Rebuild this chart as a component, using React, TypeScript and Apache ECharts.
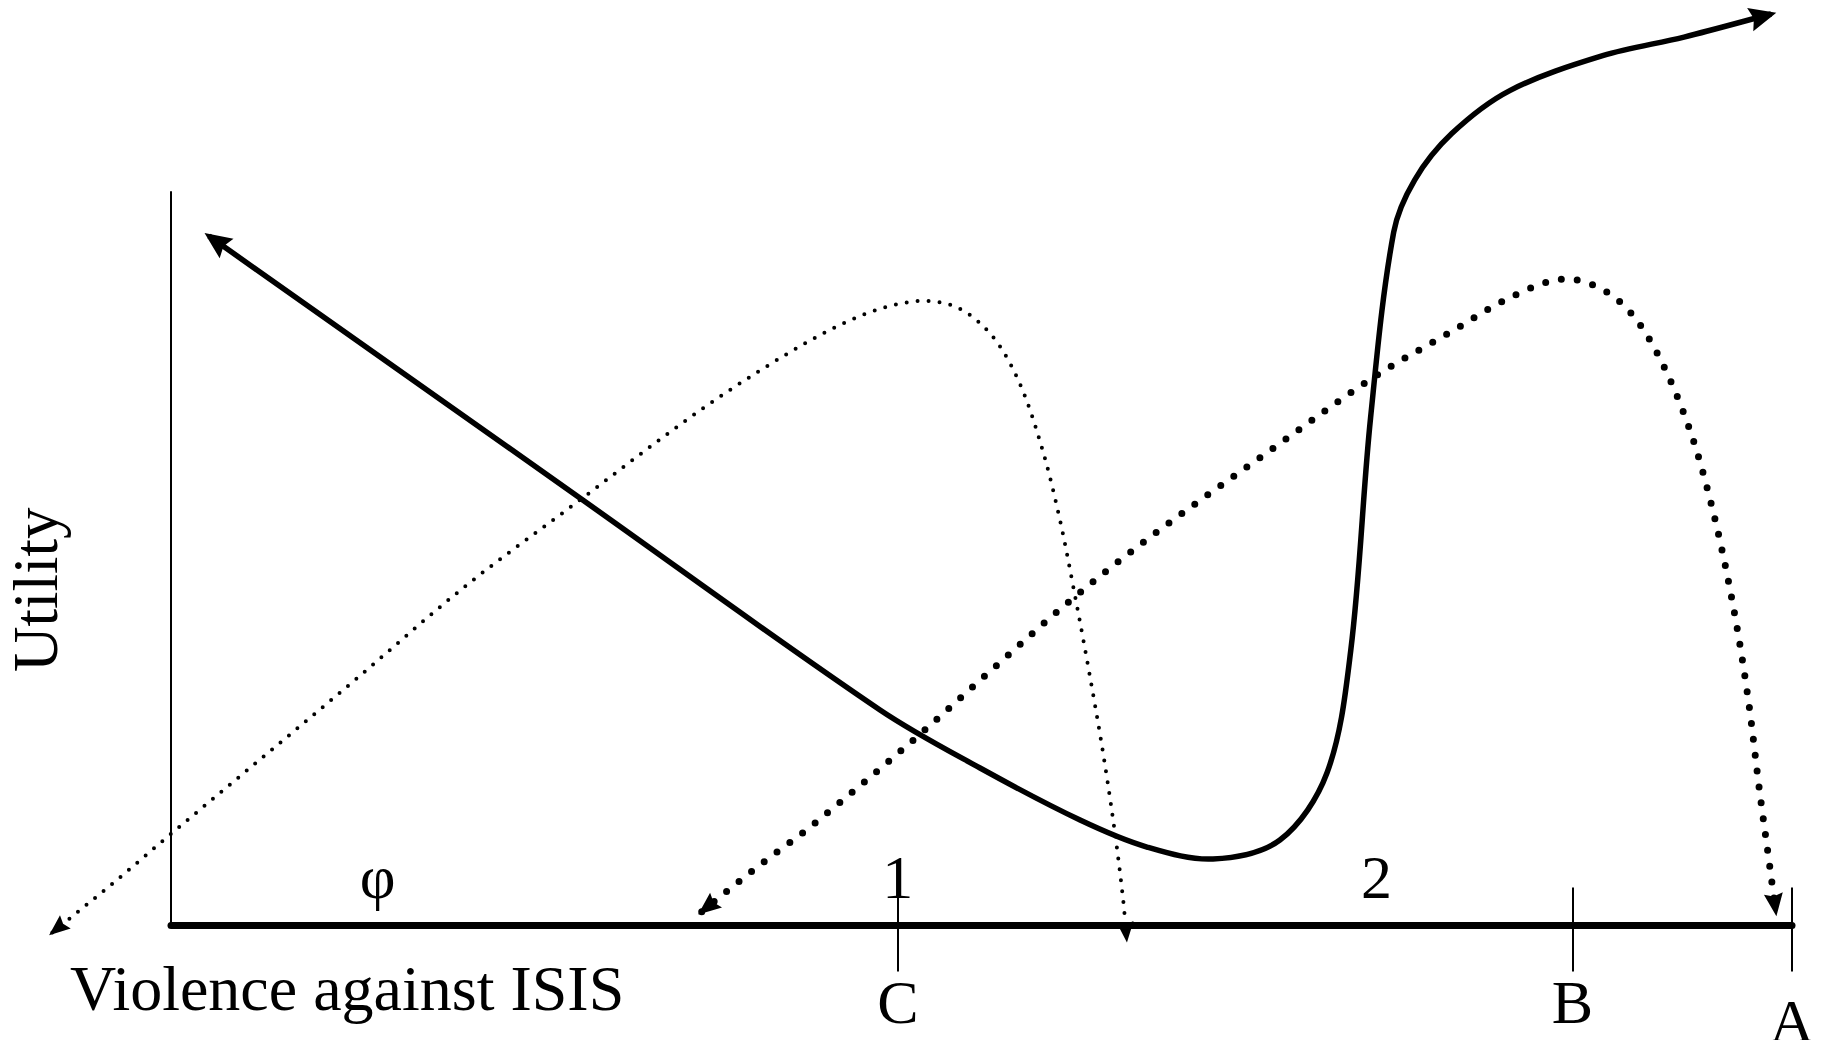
import React, { useEffect, useRef } from 'react';
import * as echarts from 'echarts';

const FONT = '"Liberation Serif", "Times New Roman", Times, serif';

// Axis marks (x in units where A = 10, y in units where the top of the Utility axis = 10)
const tickValues = [4.484, 8.646, 10];
const tickLabels = ['C', 'B', 'A'];
const regionValues = [1.275, 4.484, 7.436];
const regionLabels = ['φ', '1', '2'];

// Solid curve (arrow at both ends)
const solidCurve: number[][] = [
  [0.234, 9.4], [2.505, 5.856], [4.374, 2.939], [4.991, 2.148],
  [5.608, 1.439], [6.021, 1.071], [6.428, 0.908], [6.841, 1.167], [7.131, 2.08],
  [7.278, 3.751], [7.4, 6.918], [7.543, 9.455], [7.672, 10.163], [7.901, 10.796],
  [8.259, 11.382], [8.832, 11.858], [9.334, 12.112], [9.871, 12.426],
];

// Thin dotted curve (arrow at both ends)
const thinDotted: number[][] = [
  [-0.732, -0.095], [-0.337, 0.617], [0, 1.25], [1.096, 3.275], [1.812, 4.62],
  [2.507, 5.775], [3.245, 6.994], [3.818, 7.816], [4.248, 8.307], [4.606, 8.513],
  [4.857, 8.418], [5.072, 8.022], [5.236, 7.389], [5.372, 6.519], [5.48, 5.57],
  [5.573, 4.541], [5.666, 3.434], [5.752, 2.326], [5.824, 1.25], [5.874, 0.348],
  [5.895, -0.174],
];

// Thick dotted curve (arrow at both ends)
const thickDotted: number[][] = [
  [3.274, 0.19], [3.603, 0.775], [3.961, 1.377], [4.556, 2.484], [5.036, 3.434],
  [5.573, 4.478], [6.11, 5.411], [6.827, 6.551], [7.414, 7.468], [7.901, 8.101],
  [8.259, 8.56], [8.582, 8.813], [8.818, 8.687], [9.011, 8.339], [9.191, 7.706],
  [9.37, 6.756], [9.513, 5.649], [9.635, 4.383], [9.728, 3.117], [9.799, 1.851],
  [9.857, 0.902], [9.9, 0.19],
];

// Layout (pixels)
const W = 1821;
const H = 1040;
const PLOT_LEFT = 171;
const PLOT_RIGHT = 29;
const PLOT_TOP = 192;
const PLOT_BOTTOM = 114.4;
const X_MAX = 10;
const Y_MAX = 10;
const xPer = (W - PLOT_LEFT - PLOT_RIGHT) / X_MAX;
const yPer = (H - PLOT_TOP - PLOT_BOTTOM) / Y_MAX;

function nearestIndex(arr: number[], v: number) {
  let best = 0;
  for (let i = 1; i < arr.length; i++) {
    if (Math.abs(arr[i] - v) < Math.abs(arr[best] - v)) best = i;
  }
  return best;
}

function arrowHead(p: number[], u: number[], len: number, wid: number) {
  // u: unit direction the arrow points to
  const v = [-u[1], u[0]];
  const tip = [p[0] + u[0] * len * 0.2, p[1] + u[1] * len * 0.2];
  const base = [tip[0] - u[0] * len, tip[1] - u[1] * len];
  const notch = [tip[0] - u[0] * len * 0.86, tip[1] - u[1] * len * 0.86];
  return {
    type: 'polygon',
    shape: {
      points: [
        tip,
        [base[0] + (v[0] * wid) / 2, base[1] + (v[1] * wid) / 2],
        notch,
        [base[0] - (v[0] * wid) / 2, base[1] - (v[1] * wid) / 2],
      ],
    },
    style: { fill: '#000', stroke: 'none' },
    silent: true,
  };
}

// Smooth curve through the data points (drawn in pixel space from api.coord), with arrowheads.
function curveRenderer(pts: number[][], width: number, dash: number[] | null, head: number[]) {
  return (params: any, api: any) => {
    if (params.dataIndex !== 0) return null;
    const p: number[][] = pts.map((q) => api.coord(q));
    const n = p.length;
    const d: number[] = [];
    for (let i = 0; i < n - 1; i++) d.push(Math.hypot(p[i + 1][0] - p[i][0], p[i + 1][1] - p[i][1]));
    const t: number[][] = [];
    for (let i = 0; i < n; i++) {
      if (i === 0) t.push([(p[1][0] - p[0][0]) / d[0], (p[1][1] - p[0][1]) / d[0]]);
      else if (i === n - 1)
        t.push([(p[i][0] - p[i - 1][0]) / d[i - 1], (p[i][1] - p[i - 1][1]) / d[i - 1]]);
      else {
        const s = d[i - 1] + d[i];
        t.push([(p[i + 1][0] - p[i - 1][0]) / s, (p[i + 1][1] - p[i - 1][1]) / s]);
      }
    }
    let path = 'M' + p[0][0].toFixed(2) + ',' + p[0][1].toFixed(2);
    for (let i = 0; i < n - 1; i++) {
      const k = d[i] / 3;
      const c1 = [p[i][0] + t[i][0] * k, p[i][1] + t[i][1] * k];
      const c2 = [p[i + 1][0] - t[i + 1][0] * k, p[i + 1][1] - t[i + 1][1] * k];
      path +=
        'C' + c1[0].toFixed(2) + ',' + c1[1].toFixed(2) + ' ' +
        c2[0].toFixed(2) + ',' + c2[1].toFixed(2) + ' ' +
        p[i + 1][0].toFixed(2) + ',' + p[i + 1][1].toFixed(2);
    }
    const norm = (a: number[]) => {
      const l = Math.hypot(a[0], a[1]) || 1;
      return [a[0] / l, a[1] / l];
    };
    const uStart = norm([-t[0][0], -t[0][1]]);
    const uEnd = norm(t[n - 1]);
    const style: any = { stroke: '#000', fill: 'none', lineWidth: width, lineCap: dash ? 'round' : 'butt', lineJoin: 'round' };
    if (dash) style.lineDash = dash;
    return {
      type: 'group',
      silent: true,
      children: [
        { type: 'path', shape: { pathData: path }, style, silent: true },
        arrowHead(p[0], uStart, head[0], head[1]),
        arrowHead(p[n - 1], uEnd, head[0], head[1]),
      ],
    };
  };
}

export default function App() {
  const ref = useRef<HTMLDivElement>(null);

  useEffect(() => {
    if (!ref.current) return;
    const chart = echarts.init(ref.current, undefined, { renderer: 'svg' });
    const option: any = {
      animation: false,
      backgroundColor: '#fff',
      grid: [
        {
          left: PLOT_LEFT,
          right: PLOT_RIGHT,
          top: PLOT_TOP,
          bottom: PLOT_BOTTOM,
          containLabel: false,
          outerBoundsMode: 'none',
        },
        {
          left: 0,
          right: 0,
          top: 0,
          bottom: 0,
          containLabel: false,
          outerBoundsMode: 'none',
        },
      ],
      xAxis: [
        {
          type: 'value',
          gridIndex: 0,
          min: 0,
          max: X_MAX,
          position: 'bottom',
          axisLine: { show: true, onZero: true, lineStyle: { color: '#000', width: 7 } },
          axisTick: {
            show: true,
            inside: true,
            length: 38,
            customValues: tickValues,
            lineStyle: { color: '#000', width: 2 },
          },
          axisLabel: {
            show: true,
            inside: true,
            customValues: regionValues,
            margin: 18,
            fontSize: 62,
            fontFamily: FONT,
            color: '#000',
            formatter: (v: number) => regionLabels[nearestIndex(regionValues, v)],
          },
          splitLine: { show: false },
          name: 'Violence against ISIS',
          nameLocation: 'start',
          nameGap: 101,
          nameTextStyle: {
            fontSize: 64,
            fontFamily: FONT,
            color: '#000',
            align: 'left',
            verticalAlign: 'top',
            padding: [31, 0, 0, 0],
          },
        },
        {
          type: 'value',
          gridIndex: 0,
          min: 0,
          max: X_MAX,
          position: 'bottom',
          axisLine: { show: false, onZero: true },
          axisTick: {
            show: true,
            inside: false,
            length: 46,
            customValues: tickValues,
            lineStyle: { color: '#000', width: 2 },
          },
          axisLabel: {
            show: true,
            customValues: tickValues,
            margin: 45,
            fontSize: 62,
            fontFamily: FONT,
            color: '#000',
            formatter: (v: number) => {
              const i = nearestIndex(tickValues, v);
              return i === tickValues.length - 1 ? '{low|' + tickLabels[i] + '}' : tickLabels[i];
            },
            rich: {
              low: { fontSize: 62, fontFamily: FONT, color: '#000', padding: [19, 0, 0, 0] },
            },
          },
          splitLine: { show: false },
        },
        {
          type: 'value',
          gridIndex: 1,
          show: false,
          min: -PLOT_LEFT / xPer,
          max: X_MAX + PLOT_RIGHT / xPer,
        },
      ],
      yAxis: [
        {
          type: 'value',
          gridIndex: 0,
          min: 0,
          max: Y_MAX,
          axisLine: { show: true, onZero: false, lineStyle: { color: '#000', width: 2 } },
          axisTick: { show: false },
          axisLabel: { show: false },
          splitLine: { show: false },
          name: 'Utility',
          nameLocation: 'middle',
          nameGap: 104,
          nameTextStyle: {
            fontSize: 63,
            fontFamily: FONT,
            color: '#000',
            padding: [0, 62, 0, 0],
          },
        },
        {
          type: 'value',
          gridIndex: 1,
          show: false,
          min: -PLOT_BOTTOM / yPer,
          max: Y_MAX + PLOT_TOP / yPer,
        },
      ],
      series: [
        {
          type: 'custom',
          name: 'solid',
          xAxisIndex: 2,
          yAxisIndex: 1,
          data: solidCurve,
          clip: false,
          silent: true,
          renderItem: curveRenderer(solidCurve, 5.5, null, [27, 24]),
        },
        {
          type: 'custom',
          name: 'thin',
          xAxisIndex: 2,
          yAxisIndex: 1,
          data: thinDotted,
          clip: false,
          silent: true,
          renderItem: curveRenderer(thinDotted, 4, [0, 11], [21, 17]),
        },
        {
          type: 'custom',
          name: 'thick',
          xAxisIndex: 2,
          yAxisIndex: 1,
          data: thickDotted,
          clip: false,
          silent: true,
          renderItem: curveRenderer(thickDotted, 7, [0, 16], [23, 19]),
        },
      ],
    };
    chart.setOption(option);
    return () => chart.dispose();
  }, []);

  return (
    <div
      ref={ref}
      style={{ position: 'absolute', left: 0, top: 0, width: W, height: H, background: '#fff' }}
    />
  );
}
